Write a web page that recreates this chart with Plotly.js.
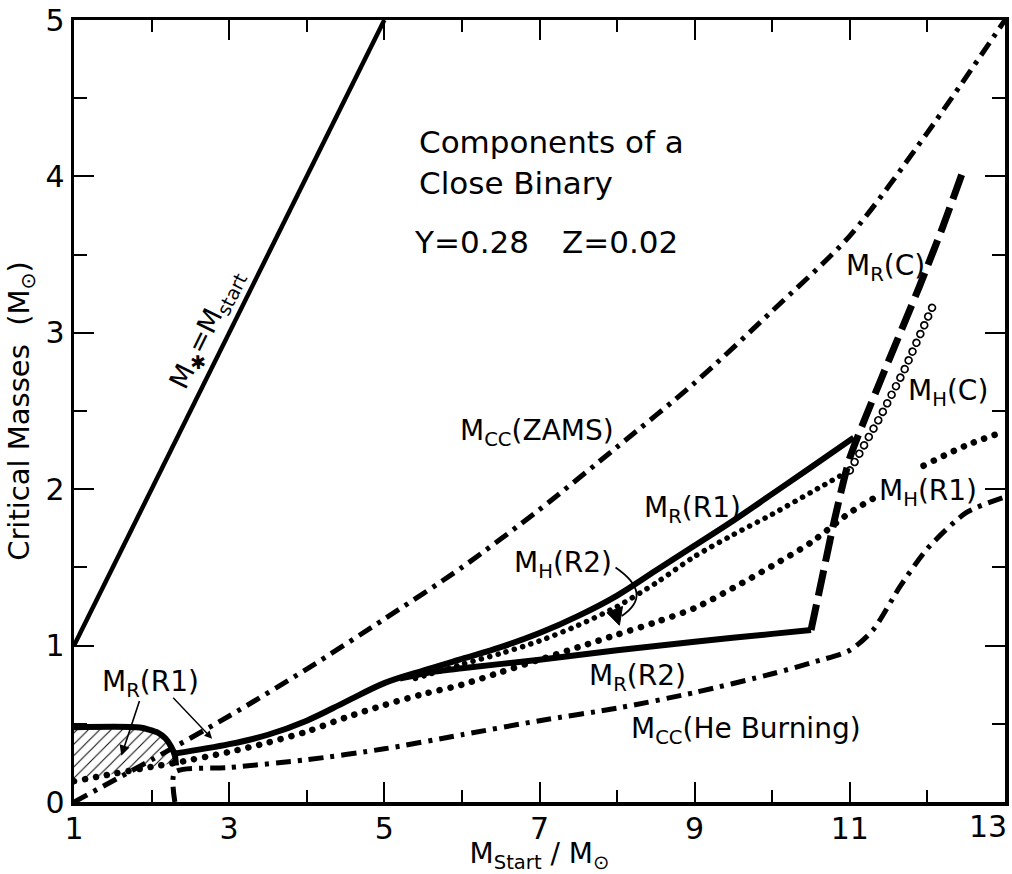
<!DOCTYPE html>
<html>
<head>
<meta charset="utf-8">
<script src="https://cdn.plot.ly/plotly-3.0.1.min.js"></script>
<style>
  html, body { margin: 0; padding: 0; background: #fff; }
  #chart { width: 1012px; height: 874px; }
</style>
</head>
<body>
<div id="chart"></div>
<script>
// Critical masses of the components of a close binary vs. initial mass

// M* = Mstart
const mStarX = [1, 5];
const mStarY = [1, 5];

// M_CC (ZAMS)
const mccZamsX = [1, 2, 3, 4, 5, 6, 7, 8, 9, 10, 11, 12, 13];
const mccZamsY = [0.0, 0.27, 0.55, 0.85, 1.17, 1.5, 1.87, 2.27, 2.68, 3.14, 3.62, 4.28, 5.0];

// M_CC (He burning)
const mccHeX = [2.3, 2.3, 3, 4, 5, 6, 7, 8, 9, 10, 10.5, 11, 11.3, 11.65, 12, 12.5, 13];
const mccHeY = [0, 0.19, 0.22, 0.27, 0.34, 0.43, 0.52, 0.6, 0.7, 0.82, 0.89, 0.97, 1.1, 1.38, 1.62, 1.85, 1.95];

// M_R (R1), low-mass cap
const mrLoopX = [1, 1.85, 2.08, 2.18, 2.25, 2.3, 2.315];
const mrLoopY = [0.478, 0.476, 0.444, 0.406, 0.355, 0.297, 0.233];

// M_R (R1)
const mrR1X = [2.3, 3, 3.5, 4, 4.5, 5, 5.5, 6, 6.5, 7, 7.5, 8, 8.5, 9, 9.5, 10, 10.5, 11.05];
const mrR1Y = [0.31, 0.37, 0.43, 0.52, 0.64, 0.76, 0.84, 0.915, 0.99, 1.08, 1.19, 1.32, 1.48, 1.64, 1.8, 1.97, 2.14, 2.33];

// M_R (R2)
const mrR2X = [5.2, 5.6, 6, 7, 8, 9, 10, 10.5];
const mrR2Y = [0.79, 0.83, 0.855, 0.91, 0.97, 1.025, 1.075, 1.1];

// M_R (C)
const mrCX = [10.5, 10.65, 10.8, 11.0, 11.4, 11.9, 12.2, 12.47];
const mrCY = [1.1, 1.45, 1.8, 2.2, 2.7, 3.3, 3.68, 4.05];

// M_H (C)
const mhCX = [11.0, 11.4, 11.7, 12.06];
const mhCY = [2.12, 2.47, 2.76, 3.16];

// M_H (R2)
const mhR2X = [5.4, 6, 6.5, 7, 7.5, 8, 8.5, 9, 9.5, 10, 10.5, 11.0];
const mhR2Y = [0.79, 0.88, 0.95, 1.03, 1.13, 1.25, 1.4, 1.57, 1.71, 1.84, 1.98, 2.12];

// M_H (R1) (broken where its label sits)
const mhR1X = [1, 1.5, 2, 2.3, 3, 3.5, 4, 4.5, 5, 5.5, 6, 6.5, 7, 7.5, 8, 8.5, 9, 9.5, 10, 10.5, 11, 11.3, 11.6, 11.95, 12.5, 13];
const mhR1Y = [0.133, 0.18, 0.225, 0.25, 0.32, 0.38, 0.45, 0.54, 0.62, 0.69, 0.75, 0.83, 0.91, 0.99, 1.07, 1.15, 1.24, 1.37, 1.51, 1.66, 1.85, 1.94, null, 2.15, 2.28, 2.37];

// tick labels; the label at the right edge is set flush with the frame
const xTickVals = [1, 3, 5, 7, 9, 11, 13];
const xTickText = ['1', '3', '5', '7', '9', '11', ''];
const xEdgeLabel = '13';
const yTickVals = [0, 1, 2, 3, 4, 5];
const yTickText = ['0', '1', '2', '3', '4', '5'];

// hatched area: under the cap, above M_H(R1)
const hatchX = mrLoopX.concat(mhR1X.slice(0, 4).reverse());
const hatchY = mrLoopY.concat(mhR1Y.slice(0, 4).reverse());

const FONT = 'DejaVu Sans, Verdana, sans-serif';
const BLACK = '#000';
const DASHDOT = '15px,7px,4px,7px';

const traces = [
  { x: hatchX, y: hatchY, mode: 'lines', fill: 'toself', line: { width: 0 },
    fillcolor: 'rgba(255,255,255,0)',
    fillpattern: { shape: '/', fgcolor: BLACK, bgcolor: 'rgba(255,255,255,0)', size: 8, solidity: 0.12 },
    hoverinfo: 'skip' },
  { x: mStarX, y: mStarY, mode: 'lines', line: { color: BLACK, width: 4.5 } },
  { x: mccZamsX, y: mccZamsY, mode: 'lines', line: { color: BLACK, width: 5, dash: DASHDOT, shape: 'spline', smoothing: 0.8 } },
  { x: mccHeX, y: mccHeY, mode: 'lines', line: { color: BLACK, width: 5, dash: DASHDOT, shape: 'spline', smoothing: 0.7 } },
  { x: mhR1X, y: mhR1Y, mode: 'lines', connectgaps: false, line: { color: BLACK, width: 6.5, dash: '0.1px,11px', shape: 'spline', smoothing: 0.8 } },
  { x: mhR2X, y: mhR2Y, mode: 'lines', line: { color: BLACK, width: 5.5, dash: '0.1px,8.5px', shape: 'spline', smoothing: 0.8 } },
  { x: mhCX, y: mhCY, mode: 'lines', line: { color: BLACK, width: 8.5, dash: '0.1px,9.5px' } },
  { x: mhCX, y: mhCY, mode: 'lines', line: { color: '#fff', width: 5, dash: '0.1px,9.5px' } },
  { x: mrLoopX, y: mrLoopY, mode: 'lines', line: { color: BLACK, width: 6, shape: 'spline', smoothing: 0.6 } },
  { x: mrR1X, y: mrR1Y, mode: 'lines', line: { color: BLACK, width: 6, shape: 'spline', smoothing: 1 } },
  { x: mrR2X, y: mrR2Y, mode: 'lines', line: { color: BLACK, width: 6, shape: 'spline', smoothing: 0.6 } },
  { x: mrCX, y: mrCY, mode: 'lines', line: { color: BLACK, width: 7, dash: '26px,9px', shape: 'spline', smoothing: 0.6 } }
];
const roundCapTraces = [4, 5, 6, 7];

function label(text, x, y, size, extra) {
  return Object.assign({ text: text, x: x, y: y, xref: 'x', yref: 'y', showarrow: false,
    xanchor: 'left', yanchor: 'middle', font: { family: FONT, size: size, color: BLACK } }, extra || {});
}

const annotations = [
  label('Components of a', 5.42, 4.22, 31),
  label('Close Binary', 5.42, 3.96, 31),
  label('Y=0.28', 5.36, 3.58, 31),
  label('Z=0.02', 7.27, 3.58, 31),
  label('M<sub>CC</sub>(ZAMS)', 5.95, 2.36, 28),
  label('M<sub>R</sub>(C)', 10.93, 3.42, 28),
  label('M<sub>H</sub>(C)', 11.72, 2.62, 28),
  label('M<sub>R</sub>(R1)', 8.32, 1.87, 28),
  label('M<sub>H</sub>(R1)', 11.35, 1.98, 28),
  label('M<sub>H</sub>(R2)', 6.64, 1.52, 28),
  label('M<sub>R</sub>(R2)', 7.61, 0.795, 28),
  label('M<sub>CC</sub>(He Burning)', 8.15, 0.455, 28),
  label('M<sub>R</sub>(R1)', 1.335, 0.76, 28),
  label('M<sub>✱</sub>=M<sub>start</sub>', 2.72, 3.02, 27, { xanchor: 'center', textangle: -63.6 }),
  { text: xEdgeLabel, x: 13, y: 0, xref: 'x', yref: 'paper', xanchor: 'right', yanchor: 'top',
    xshift: 4, yshift: -5, showarrow: false, font: { family: FONT, size: 30, color: BLACK } },
  { text: '', x: 1.61, y: 0.295, ax: 1.85, ay: 0.655, axref: 'x', ayref: 'y', xref: 'x', yref: 'y',
    showarrow: true, arrowhead: 2, arrowsize: 1.3, arrowwidth: 1.6, arrowcolor: BLACK },
  { text: '', x: 2.78, y: 0.405, ax: 2.26, ay: 0.676, axref: 'x', ayref: 'y', xref: 'x', yref: 'y',
    showarrow: true, arrowhead: 2, arrowsize: 1.1, arrowwidth: 1.4, arrowcolor: BLACK }
];

const shapes = [
  { type: 'path', xref: 'x', yref: 'y', path: 'M 7.98,1.50 Q 8.48,1.33 8.06,1.19',
    line: { color: BLACK, width: 1.8 } },
  { type: 'path', xref: 'x', yref: 'y', path: 'M 7.87,1.21 L 8.07,1.25 L 8.03,1.13 Z',
    fillcolor: BLACK, line: { color: BLACK, width: 1 } }
];

const axisCommon = {
  showgrid: false, zeroline: false, showline: true, linecolor: BLACK, linewidth: 3.5,
  mirror: 'ticks', ticks: 'inside', ticklen: 20, tickwidth: 2, tickcolor: BLACK,
  tickfont: { family: FONT, size: 30, color: BLACK }, fixedrange: true
};

const layout = {
  width: 1012, height: 874,
  margin: { l: 74, r: 7, t: 20, b: 72 },
  paper_bgcolor: '#fff', plot_bgcolor: '#fff',
  showlegend: false,
  font: { family: FONT, color: BLACK },
  xaxis: Object.assign({}, axisCommon, {
    range: [1, 13], tickmode: 'array', tickvals: xTickVals, ticktext: xTickText,
    ticklabelstandoff: -3,
    minor: { dtick: 1, tick0: 1, ticks: 'inside', ticklen: 12, tickwidth: 2, tickcolor: BLACK, showgrid: false },
    title: { text: 'M<sub>Start</sub>\u00A0/\u00A0M<sub>⊙</sub>', font: { family: FONT, size: 28, color: BLACK }, standoff: 10 }
  }),
  yaxis: Object.assign({}, axisCommon, {
    range: [0, 5], tickmode: 'array', tickvals: yTickVals, ticktext: yTickText,
    minor: { dtick: 0.5, tick0: 0, ticks: 'inside', ticklen: 13, tickwidth: 2, tickcolor: BLACK, showgrid: false },
    title: { text: 'Critical Masses\u00A0\u00A0(M<sub>⊙</sub>)', font: { family: FONT, size: 29, color: BLACK }, standoff: 8 }
  }),
  annotations: annotations,
  shapes: shapes
};

Plotly.newPlot('chart', traces, layout, { staticPlot: true }).then(function (gd) {
  // round line caps turn the dotted patterns into round dots / rings
  const groups = gd.querySelectorAll('.scatterlayer .trace');
  roundCapTraces.forEach(function (i) {
    if (!groups[i]) return;
    groups[i].querySelectorAll('path.js-line').forEach(function (p) {
      p.style.strokeLinecap = 'round';
    });
  });
});
</script>
</body>
</html>
